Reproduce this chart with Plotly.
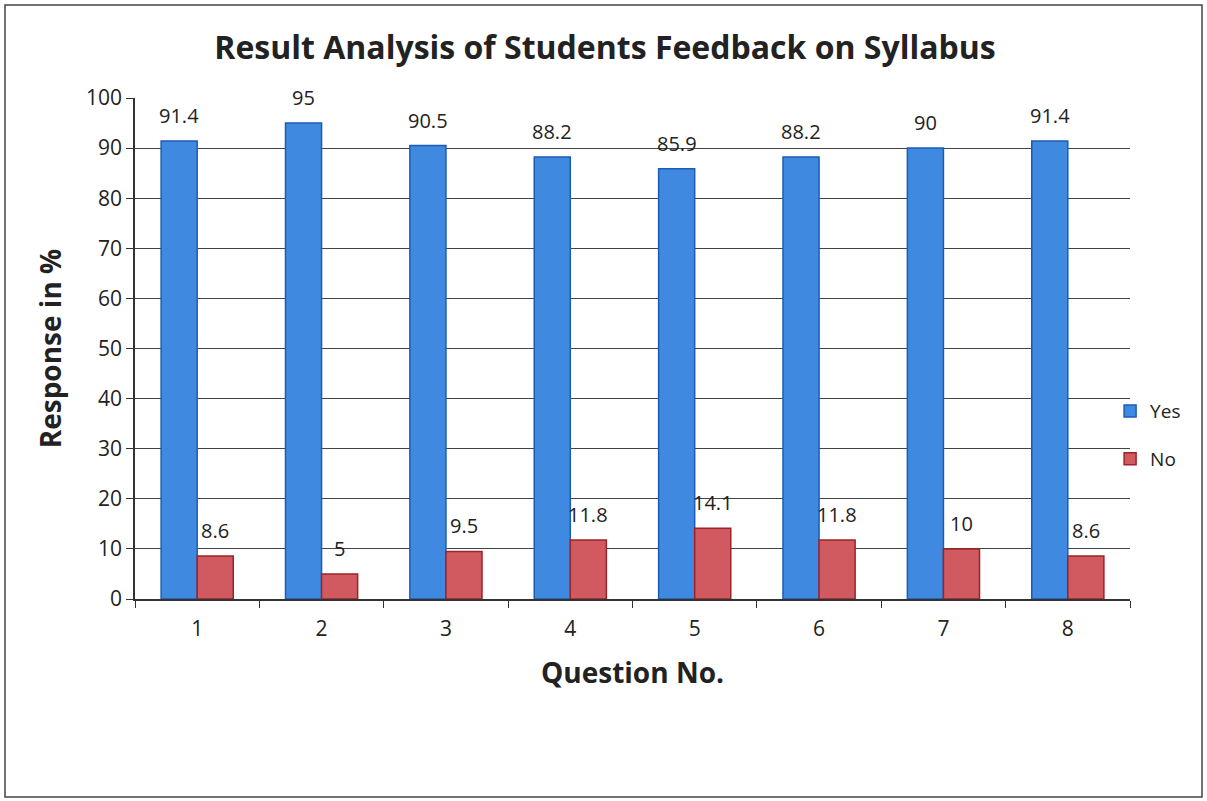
import plotly.graph_objects as go

questions = ["1", "2", "3", "4", "5", "6", "7", "8"]
yes_vals = [91.4, 95, 90.5, 88.2, 85.9, 88.2, 90, 91.4]
no_vals = [8.6, 5, 9.5, 11.8, 14.1, 11.8, 10, 8.6]

FONT = "'Open Sans', sans-serif"

fig = go.Figure()
fig.add_trace(go.Bar(x=questions, y=yes_vals, name="Yes", legendgroup="a",
                     marker=dict(color="#3f8ae0", line=dict(color="#1d5cb4", width=1.5))))
fig.add_trace(go.Bar(x=questions, y=no_vals, name="No", legendgroup="b",
                     marker=dict(color="#d05a60", line=dict(color="#9c2428", width=1.5))))

for i, v in enumerate(yes_vals):
    fig.add_annotation(x=i, y=v, text=str(v), showarrow=False, xshift=-18, yshift=10,
                       yanchor="bottom", font=dict(size=20, color="#222", family=FONT))
for i, v in enumerate(no_vals):
    fig.add_annotation(x=i, y=v, text=str(v), showarrow=False, xshift=18, yshift=10,
                       yanchor="bottom", font=dict(size=20, color="#222", family=FONT))

L, R, T, B = 135, 77, 98, 202
pw, ph = 1207 - L - R, 801 - T - B
fig.add_shape(type="rect", xref="paper", yref="paper",
              x0=(5 - L) / pw, x1=(1202 - L) / pw, y0=-(797 - T - ph) / ph, y1=1 + (T - 5) / ph,
              line=dict(color="#444", width=1.5), layer="below")

fig.update_layout(
    width=1207, height=801,
    margin=dict(l=L, r=R, t=T, b=B),
    paper_bgcolor="white", plot_bgcolor="white",
    font=dict(family=FONT, color="#222"),
    title=dict(text="<b>Result Analysis of Students Feedback on Syllabus</b>",
               x=(605 - L) / pw, xanchor="center", y=1 - 48 / 801, yanchor="middle",
               xref="paper",
               font=dict(size=32, color="#222", family=FONT)),
    bargap=0.42, bargroupgap=0,
    barmode="group",
    legend=dict(x=0.98, xanchor="left", y=0.327, yanchor="middle",
                font=dict(size=19, family=FONT), tracegroupgap=20,
                bgcolor="rgba(0,0,0,0)", itemwidth=30),
    xaxis=dict(title=dict(text="<b>Question No.</b>", font=dict(size=28, family=FONT), standoff=22),
               showline=True, linecolor="#333", linewidth=1.5,
               ticks="outside", ticklen=7, tickcolor="#333", tickson="boundaries",
               ticklabelstandoff=10,
               tickfont=dict(size=21, family=FONT)),
    yaxis=dict(title=dict(text="<b>Response in %</b>", font=dict(size=28, family=FONT), standoff=16),
               range=[0, 100], dtick=10, showline=True, linecolor="#333", linewidth=1.5,
               ticks="outside", ticklen=7, tickcolor="#333",
               showgrid=True, gridcolor="#444", gridwidth=1,
               tickfont=dict(size=21, family=FONT), zeroline=False),
)

fig.write_html("out.html", config={"displayModeBar": False},
               post_script="document.body.style.margin='0';")
